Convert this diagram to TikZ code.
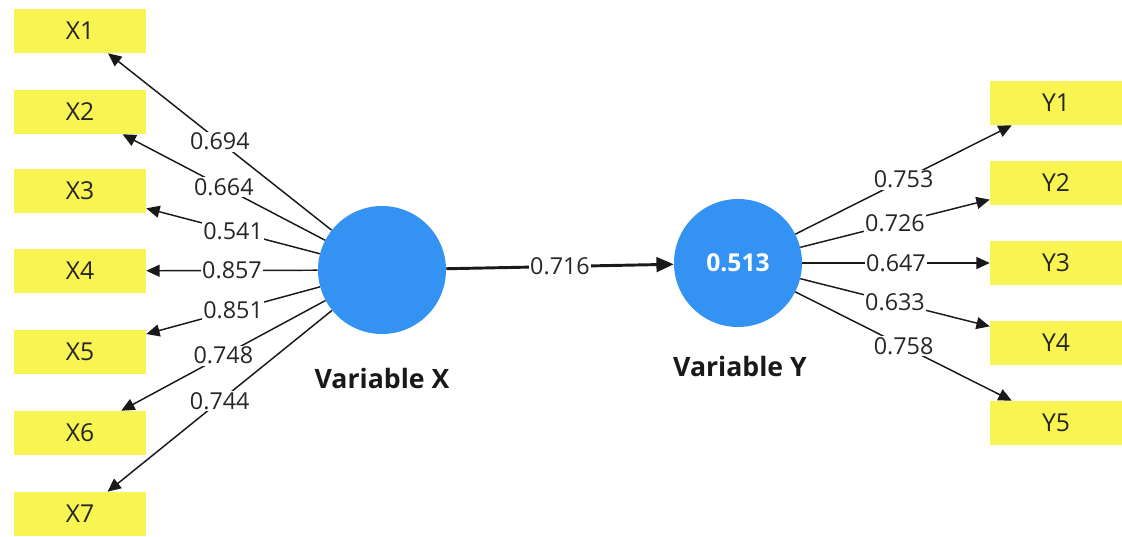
\documentclass[tikz,border=0pt]{standalone}
\usepackage{fontspec}
\setmainfont{Open Sans}
\usetikzlibrary{arrows.meta}
\definecolor{boxyellow}{RGB}{248,244,82}
\definecolor{lvblue}{RGB}{52,146,243}
\tikzset{
  indicator/.style={fill=boxyellow, minimum width=99pt, minimum height=33pt, inner sep=0pt, text=black!85, font=\fontsize{18.5}{20}\selectfont},
  latent/.style={circle, fill=lvblue, minimum size=96pt, inner sep=0pt, text=white, font=\fontsize{18.5}{20}\selectfont\bfseries},
  loading/.style={-{Triangle[length=10pt,width=9pt]}, line width=1.1pt, black!90},
  coef/.style={fill=white, inner sep=1pt, text=black!85, font=\fontsize{17.5}{19}\selectfont},
  lvname/.style={text=black!90, font=\fontsize{20}{22}\selectfont\bfseries}
}
\begin{document}
\begin{tikzpicture}[x=0.75pt, y=-0.75pt]
  \useasboundingbox (0,0) rectangle (1122,536);
  % 1. 指标框 (左)
  \node[indicator] (x1) at (80, 31) {X1};
  \node[indicator] (x2) at (80, 112) {X2};
  \node[indicator] (x3) at (80, 191) {X3};
  \node[indicator] (x4) at (80, 271) {X4};
  \node[indicator] (x5) at (80, 352) {X5};
  \node[indicator] (x6) at (80, 433) {X6};
  \node[indicator] (x7) at (80, 514) {X7};
  % 指标框 (右)
  \node[indicator] (y1) at (1056, 103) {Y1};
  \node[indicator] (y2) at (1056, 183) {Y2};
  \node[indicator] (y3) at (1056, 263) {Y3};
  \node[indicator] (y4) at (1056, 343) {Y4};
  \node[indicator] (y5) at (1056, 423) {Y5};

  % 2. 潜变量
  \node[latent] (vx) at (382, 270) {};
  \node[latent] (vy) at (738, 263) {0.513};
  \node[lvname] (vxname) at (382, 378) {Variable X};
  \node[lvname] (vyname) at (740, 366) {Variable Y};

  % 3. 外部载荷
  \draw[loading] (vx) -- node[coef] {0.694} (x1);
  \draw[loading] (vx) -- node[coef] {0.664} (x2);
  \draw[loading] (vx) -- node[coef] {0.541} (x3);
  \draw[loading] (vx) -- node[coef] {0.857} (x4);
  \draw[loading] (vx) -- node[coef] {0.851} (x5);
  \draw[loading] (vx) -- node[coef] {0.748} (x6);
  \draw[loading] (vx) -- node[coef] {0.744} (x7);

  \draw[loading] (vy) -- node[coef] {0.753} (y1);
  \draw[loading] (vy) -- node[coef] {0.726} (y2);
  \draw[loading] (vy) -- node[coef] {0.647} (y3);
  \draw[loading] (vy) -- node[coef] {0.633} (y4);
  \draw[loading] (vy) -- node[coef] {0.758} (y5);

  % 4. 路径系数
  \draw[-{Triangle[length=13pt,width=11pt]}, line width=2.2pt, black!90] (vx) -- node[coef] {0.716} (vy);
\end{tikzpicture}
\end{document}
